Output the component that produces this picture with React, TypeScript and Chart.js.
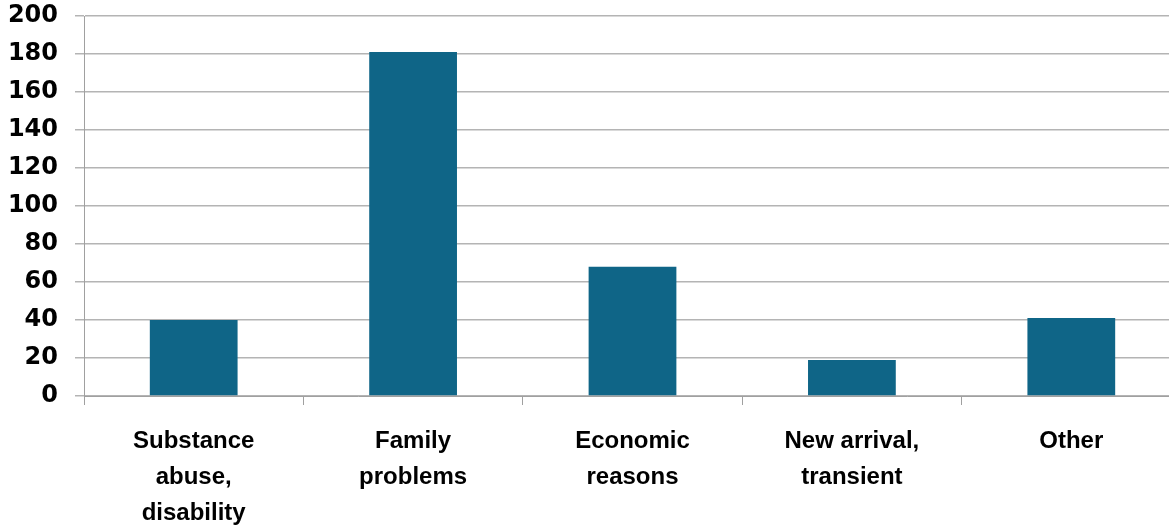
import React, { useEffect, useRef } from "react";
import { Chart, registerables } from "chart.js";

Chart.register(...registerables);

const categories: string[][] = [
  ["Substance", "abuse,", "disability"],
  ["Family", "problems"],
  ["Economic", "reasons"],
  ["New arrival,", "transient"],
  ["Other"],
];
const counts: number[] = [40, 181, 68, 19, 41];
const yTicks: number[] = [0, 20, 40, 60, 80, 100, 120, 140, 160, 180, 200];

export default function App() {
  const ref = useRef<HTMLCanvasElement | null>(null);
  useEffect(() => {
    if (!ref.current) return;
    const chart = new Chart(ref.current, {
      type: "bar",
      data: {
        labels: categories,
        datasets: [
          {
            data: counts,
            backgroundColor: "#0f6587",
            barPercentage: 0.4,
            categoryPercentage: 1,
          },
        ],
      },
      options: {
        animation: false,
        responsive: true,
        maintainAspectRatio: false,
        layout: { padding: { top: 16, left: 0, right: 0, bottom: 0 } },
        plugins: { legend: { display: false }, tooltip: { enabled: false } },
        scales: {
          x: {
            grid: {
              offset: true,
              drawOnChartArea: false,
              drawTicks: true,
              tickLength: 9,
              color: "#a0a0a0",
              lineWidth: 1,
            },
            border: { display: true, color: "#a0a0a0", width: 1 },
            ticks: {
              color: "#000",
              font: { family: "Liberation Sans", weight: "bold", size: 24, lineHeight: 1.5 },
              padding: 18,
              maxRotation: 0,
              autoSkip: false,
            },
            afterFit: (s: any) => {
              s.height = 130;
            },
          },
          y: {
            min: 0,
            max: 200,
            afterBuildTicks: (s: any) => {
              s.ticks = yTicks.map((v) => ({ value: v }));
            },
            grid: {
              color: "#b4b4b4",
              lineWidth: 1.5,
              tickLength: 9,
              drawTicks: true,
            },
            border: { display: true, color: "#a0a0a0", width: 1 },
            ticks: {
              color: "#000",
              font: { family: "DejaVu Sans", weight: "bold", size: 24 },
              padding: 17,
            },
            afterFit: (s: any) => {
              s.width = 84;
              s.paddingTop = 0;
              s.paddingBottom = 0;
            },
          },
        },
      },
    });
    return () => chart.destroy();
  }, []);
  return (
    <div style={{ position: "fixed", left: 0, top: 0, width: 1169, height: 526, overflow: "hidden", background: "#fff" }}>
      <div style={{ position: "relative", width: 1181, height: 526 }}>
        <canvas ref={ref} />
      </div>
    </div>
  );
}
